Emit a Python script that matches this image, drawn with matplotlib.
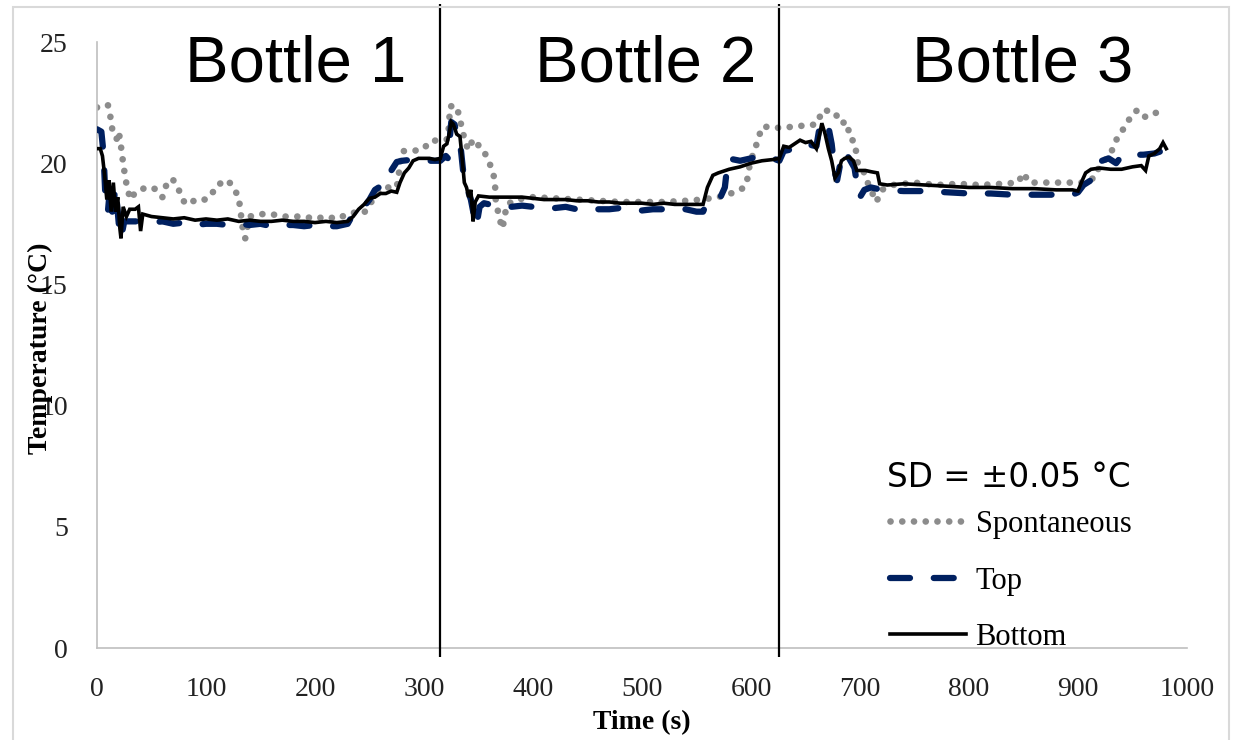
import matplotlib
matplotlib.use("Agg")
import matplotlib.pyplot as plt
from matplotlib.patches import Rectangle

# ---------------- data ----------------
bottom_t = [0, 3, 5, 7, 9, 11, 13, 15, 17, 19, 21, 22, 24, 27, 30, 35, 38, 40, 42, 50, 60, 70, 80, 90,
            100, 110, 120, 130, 140, 150, 160, 170, 180, 190, 200, 210, 220, 230, 235, 240, 245, 250,
            255, 260, 265, 270, 275, 278, 282, 286, 290, 295, 300, 305, 310, 315, 318, 321, 323, 325,
            327, 330, 333, 335, 337, 339, 341, 343, 345, 347, 350, 360, 370, 380, 390, 400, 410, 420,
            430, 440, 450, 460, 470, 480, 490, 500, 510, 520, 530, 540, 550, 556, 560, 565, 570, 580,
            590, 600, 610, 620, 626, 630, 635, 640, 645, 650, 655, 660, 663, 665, 668, 671, 674, 677,
            680, 683, 686, 690, 694, 697, 700, 705, 710, 716, 718, 725, 740, 760, 780, 800, 820, 840,
            860, 880, 895, 900, 903, 907, 912, 920, 930, 940, 950, 958, 962, 965, 970, 975, 978, 981]
bottom_v = [20.6, 20.6, 20.3, 19.5, 18.5, 19.3, 18.0, 19.2, 18.0, 18.6, 17.3, 16.9, 18.2, 17.8, 18.1,
            18.1, 18.2, 17.2, 17.9, 17.8, 17.75, 17.7, 17.75, 17.65, 17.7, 17.65, 17.7, 17.6, 17.65,
            17.6, 17.6, 17.65, 17.6, 17.6, 17.55, 17.6, 17.55, 17.6, 17.8, 18.1, 18.3, 18.55, 18.6,
            18.75, 18.75, 18.85, 18.8, 19.2, 19.6, 19.8, 20.1, 20.2, 20.2, 20.2, 20.15, 20.2, 20.7,
            20.8, 21.2, 21.7, 21.6, 21.2, 21.1, 20.2, 19.2, 19.0, 18.6, 18.9, 17.6, 18.4, 18.65, 18.6,
            18.6, 18.6, 18.6, 18.55, 18.5, 18.5, 18.5, 18.45, 18.45, 18.4, 18.4, 18.35, 18.35, 18.35,
            18.3, 18.35, 18.3, 18.3, 18.3, 18.3, 19.0, 19.5, 19.6, 19.75, 19.85, 20.0, 20.1, 20.15,
            20.2, 20.7, 20.65, 20.8, 20.95, 20.85, 20.9, 20.6, 21.2, 21.65, 21.2, 20.6, 20.1, 19.4,
            19.6, 20.1, 20.2, 20.25, 20.1, 19.7, 19.7, 19.7, 19.65, 19.6, 19.15, 19.1, 19.15, 19.1,
            19.05, 19.0, 19.0, 18.95, 18.95, 18.9, 18.9, 18.85, 19.2, 19.6, 19.75, 19.8, 19.75, 19.75,
            19.85, 19.9, 19.7, 20.3, 20.4, 20.6, 20.85, 20.6]

top_t = [0, 4, 6, 8, 10, 12, 14, 17, 20, 22, 25, 30, 40, 50, 60, 70, 80, 90, 100, 110, 120, 130, 140,
         150, 160, 170, 180, 190, 200, 210, 220, 230, 235, 240, 245, 250, 255, 262, 265, 270, 275, 280,
         290, 300, 310, 315, 320, 322, 325, 328, 331, 334, 337, 340, 343, 346, 348, 351, 355, 360, 370,
         380, 390, 400, 410, 420, 430, 440, 450, 460, 470, 480, 490, 500, 510, 520, 530, 540, 550, 556,
         560, 568, 572, 576, 579, 590, 600, 610, 620, 626, 630, 640, 650, 660, 663, 667, 671, 674, 677,
         679, 682, 685, 690, 695, 698, 700, 704, 710, 720, 740, 760, 780, 800, 820, 840, 860, 880, 895,
         900, 905, 912, 917, 922, 928, 935, 940, 950, 960, 970, 980]
top_v = [21.4, 21.3, 20.4, 18.3, 18.0, 19.0, 18.0, 19.0, 17.5, 16.9, 17.6, 17.6, 17.6, 17.55, 17.6,
         17.5, 17.55, 17.45, 17.5, 17.5, 17.45, 17.5, 17.45, 17.5, 17.4, 17.45, 17.45, 17.4, 17.45,
         17.4, 17.4, 17.5, 17.9, 18.1, 18.2, 18.5, 18.9, 19.1, 19.6, 19.7, 20.05, 20.1, 20.15, 20.1,
         20.1, 20.1, 20.3, 20.2, 21.7, 21.6, 21.0, 20.5, 19.2, 18.9, 18.5, 17.8, 17.4, 18.2, 18.35,
         18.3, 18.3, 18.2, 18.25, 18.2, 18.2, 18.15, 18.2, 18.1, 18.15, 18.1, 18.1, 18.15, 18.1, 18.05,
         18.1, 18.1, 18.05, 18.1, 18.0, 18.0, 18.4, 18.5, 18.6, 19.0, 20.2, 20.1, 20.2, 20.3, 20.2,
         20.1, 20.5, 20.6, 20.8, 20.7, 21.5, 21.75, 21.5, 20.8, 19.6, 19.3, 20.0, 20.5, 20.2, 19.8,
         18.9, 18.6, 18.9, 19.0, 18.9, 18.85, 18.85, 18.8, 18.75, 18.75, 18.7, 18.7, 18.7, 18.7, 18.8,
         19.1, 19.3, 19.8, 20.1, 20.2, 20.0, 20.3, 20.35, 20.35, 20.4, 20.55]

spont_t = [0, 5, 10, 12, 14, 16, 18, 20, 22, 24, 26, 28, 31, 35, 40, 45, 50, 55, 60, 65, 70, 75, 80,
           85, 90, 95, 100, 105, 110, 115, 120, 125, 130, 132, 134, 136, 140, 150, 160, 170, 180, 190,
           200, 210, 220, 230, 240, 245, 250, 255, 260, 265, 270, 275, 280, 290, 300, 305, 313, 318,
           322, 324, 330, 333, 336, 340, 343, 347, 350, 355, 358, 362, 365, 366, 368, 370, 372, 376,
           385, 400, 420, 440, 460, 480, 500, 520, 540, 555, 570, 585, 594, 597, 599, 606, 610, 617,
           627, 637, 648, 660, 666, 677, 682, 688, 691, 695, 698, 703, 706, 710, 715, 720, 730, 750,
           770, 790, 810, 830, 845, 850, 855, 870, 890, 905, 915, 920, 930, 935, 940, 945, 950, 955,
           962, 970, 978]
spont_v = [22.3, 22.3, 22.4, 22.0, 21.4, 21.2, 21.0, 21.3, 20.7, 20.0, 19.4, 18.9, 18.5, 18.8, 18.9,
           19.0, 19.0, 18.9, 18.6, 19.3, 19.3, 18.9, 18.4, 18.3, 18.5, 18.5, 18.5, 18.7, 19.1, 19.2,
           19.3, 19.0, 18.6, 17.9, 17.2, 16.9, 17.8, 17.9, 17.9, 17.8, 17.8, 17.8, 17.7, 17.8, 17.7,
           17.9, 18.0, 17.95, 18.3, 18.6, 18.9, 19.0, 19.0, 19.0, 20.5, 20.5, 20.6, 20.9, 20.95, 20.95,
           21.0, 22.35, 22.35, 21.8, 21.2, 20.6, 20.9, 20.6, 20.75, 20.5, 20.2, 19.8, 19.3, 18.3, 18.0,
           17.6, 17.3, 18.3, 18.5, 18.6, 18.55, 18.5, 18.45, 18.4, 18.4, 18.4, 18.45, 18.5, 18.6, 18.8,
           19.0, 19.4, 20.0, 20.9, 21.5, 21.5, 21.45, 21.5, 21.55, 21.6, 22.2, 22.1, 21.65, 21.7, 21.0,
           20.9, 20.0, 19.7, 19.3, 18.9, 18.4, 18.9, 19.1, 19.2, 19.1, 19.15, 19.1, 19.15, 19.2, 19.6,
           19.2, 19.2, 19.2, 19.2, 19.4, 19.9, 20.4, 20.95, 21.3, 21.65, 22.05, 22.2, 21.9, 22.05, 22.2]

dividers = [315, 626]
bottle_labels = ["Bottle 1", "Bottle 2", "Bottle 3"]
x_ticks = [0, 100, 200, 300, 400, 500, 600, 700, 800, 900, 1000]
y_ticks = [0, 5, 10, 15, 20, 25]
series_names = ["Spontaneous", "Top", "Bottom"]

# ---------------- figure ----------------
W, H = 1233, 740
fig = plt.figure(figsize=(W / 100, H / 100), dpi=100)
ax = fig.add_axes([97 / W, 1 - 648 / H, (1187 - 97) / W, (648 - 42) / H])

serif = "Liberation Serif"
gray = "#8c8c8c"
navy = "#002060"

ax.plot(spont_t, spont_v, color=gray, lw=4.8, linestyle=(0, (0.01, 1.75)),
        dash_capstyle="round", label=series_names[0], zorder=2)
ax.plot(top_t, top_v, color=navy, lw=4.5, linestyle=(0, (3.2, 3.8)),
        dash_capstyle="round", label=series_names[1], zorder=3)
ax.plot(bottom_t, bottom_v, color="black", lw=2.6, label=series_names[2], zorder=4,
        solid_joinstyle="miter")

ax.set_xlim(0, 1000)
ax.set_ylim(0, 25)
ax.set_xticks(x_ticks)
ax.set_yticks(y_ticks)
ax.tick_params(axis="both", length=0, labelsize=20)
ax.tick_params(axis="x", pad=21)
ax.tick_params(axis="y", pad=21)
for lab in ax.get_xticklabels() + ax.get_yticklabels():
    lab.set_fontfamily(serif)
    lab.set_color("#222222")

for s in ["top", "right"]:
    ax.spines[s].set_visible(False)
for s in ["left", "bottom"]:
    ax.spines[s].set_color("#bfbfbf")
    ax.spines[s].set_linewidth(1.2)

# dividers between bottles (extend beyond axes)
ax.vlines(dividers, -0.37, 26.57, colors="black", lw=1.6, clip_on=False, zorder=5)

ax.set_xlabel("Time (s)", fontfamily=serif, fontweight="bold", fontsize=20, labelpad=6)
fig.text(40 / W, 1 - 348 / H, "Temperature (°C)", rotation=90, ha="center", va="center",
         fontfamily=serif, fontweight="bold", fontsize=20)

# Bottle headings
for name, xpx in zip(bottle_labels, [185, 535, 912]):
    fig.text(xpx / W, 1 - 82 / H, name, fontfamily="Liberation Sans", fontsize=47,
             ha="left", va="baseline")

fig.text(887 / W, 1 - 487 / H, "SD = ±0.05 °C", fontfamily="DejaVu Sans", fontsize=23.5,
         ha="left", va="baseline")

leg = ax.legend(loc="upper left", bbox_to_anchor=(890 / W, 1 - 510 / H),
                bbox_transform=fig.transFigure, frameon=False,
                prop={"family": serif, "size": 22}, handlelength=2.5, handletextpad=0.3,
                labelspacing=0.9, borderaxespad=0, borderpad=0)

# outer frame
fig.patches.append(Rectangle((13 / W, -0.01), (1229 - 13) / W, (740 - 7) / H + 0.01,
                             transform=fig.transFigure, fill=False, edgecolor="#d9d9d9", lw=1.5))

fig.savefig("out.png", dpi=100)
